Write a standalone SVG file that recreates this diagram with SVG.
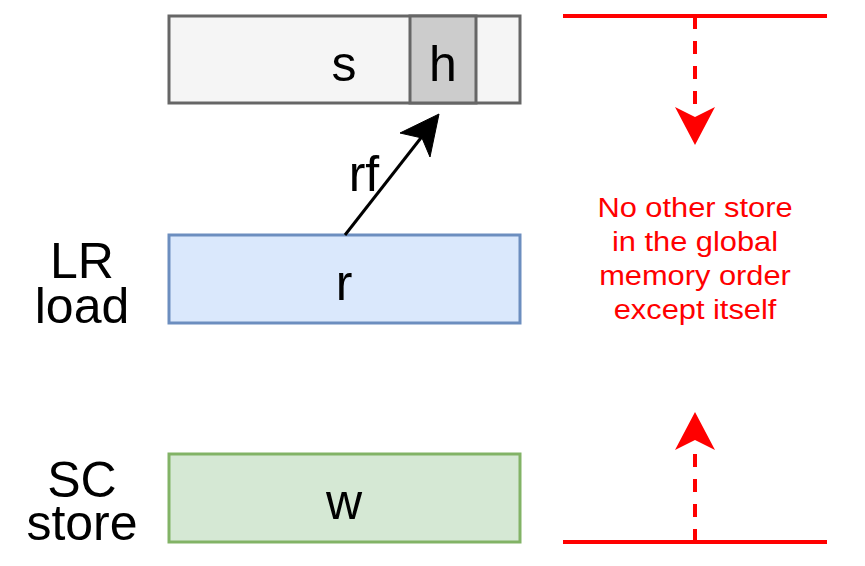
<svg xmlns="http://www.w3.org/2000/svg" width="865" height="566" viewBox="0 0 865 566">
<style>
.t{font-family:"Liberation Sans",Arial,sans-serif;fill:#000;text-anchor:middle;font-size:50px}
.red{font-family:"Liberation Sans",Arial,sans-serif;fill:#ff0000;font-size:28px;text-anchor:middle}
.rl{stroke:#ff0000;stroke-width:4;fill:none}
.rd{stroke:#ff0000;stroke-width:4;fill:none;stroke-dasharray:13 12}
</style>
<rect width="865" height="566" fill="#fff"/>
<g id="s-block">
<rect x="169" y="16" width="351" height="87" fill="#f5f5f5" stroke="#666" stroke-width="3"/>
<text class="t" x="344" y="81">s</text>
</g>
<g id="h-cell">
<rect x="410" y="16" width="66" height="87" fill="#cccccc" stroke="#666" stroke-width="3"/>
<text class="t" x="443" y="81">h</text>
</g>
<g id="r-node">
<rect x="169" y="235" width="351" height="88" fill="#dae8fc" stroke="#6c8ebf" stroke-width="3"/>
<text class="t" x="344" y="300">r</text>
</g>
<g id="w-node">
<rect x="169" y="454" width="351" height="88" fill="#d5e8d4" stroke="#82b366" stroke-width="3"/>
<text class="t" x="344" y="519">w</text>
</g>
<g id="lr-label">
<text class="t"><tspan x="82" y="278">LR</tspan><tspan x="82" y="323">load</tspan></text>
</g>
<g id="sc-label">
<text class="t"><tspan x="82" y="497">SC</tspan><tspan x="82" y="540">store</tspan></text>
</g>
<g id="note" transform="translate(695,0) scale(1.1,1)">
<text class="red"><tspan x="0" y="217">No other store</tspan><tspan x="0" y="251">in the global</tspan><tspan x="0" y="285">memory order</tspan><tspan x="0" y="319">except itself</tspan></text>
</g>
<g id="connectors">
<line x1="345" y1="235" x2="424" y2="134" stroke="#000" stroke-width="3"/>
<path d="M439,114 L430,157 L422,138 L400,133 Z" fill="#000" stroke="#000" stroke-width="1"/>
<text class="t" x="364" y="191">rf</text>
<line class="rl" x1="563" y1="16" x2="827" y2="16"/>
<line class="rd" x1="695" y1="16" x2="695" y2="112"/>
<path d="M695,145 L675,107 L695,117 L715,107 Z" fill="#ff0000"/>
<line class="rl" x1="563" y1="542" x2="827" y2="542"/>
<line class="rd" x1="695" y1="542" x2="695" y2="446"/>
<path d="M695,412 L675,450 L695,440 L715,450 Z" fill="#ff0000"/>
</g>
</svg>
